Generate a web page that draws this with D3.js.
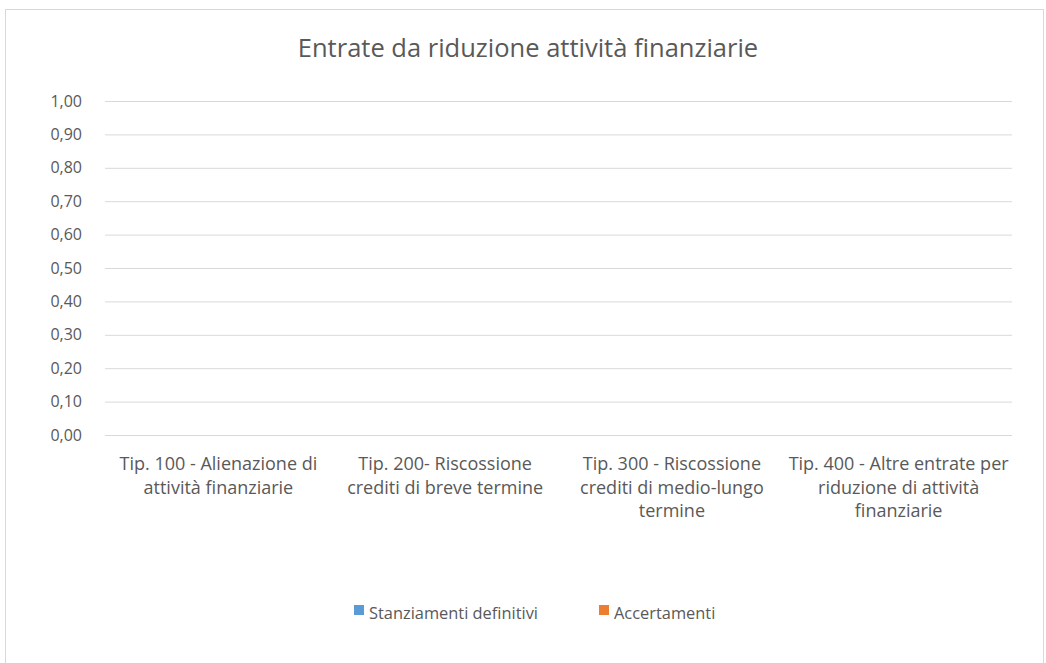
<!DOCTYPE html>
<html>
<head>
<meta charset="utf-8">
<script src="https://cdn.jsdelivr.net/npm/d3@7"></script>
<style>
  body { margin: 0; background: #fff; }
  svg text { font-family: "Open Sans", sans-serif; fill: #595959; }
</style>
</head>
<body>
<div id="chart"></div>
<script>
var categories = [
  ["Tip. 100 - Alienazione di", "attività finanziarie"],
  ["Tip. 200- Riscossione", "crediti di breve termine"],
  ["Tip. 300 - Riscossione", "crediti di medio-lungo", "termine"],
  ["Tip. 400 - Altre entrate per", "riduzione di attività", "finanziarie"]
];
var seriesNames = ["Stanziamenti definitivi", "Accertamenti"];
var stanziamenti = [0, 0, 0, 0];
var accertamenti = [0, 0, 0, 0];
var yTicks = [0, 0.1, 0.2, 0.3, 0.4, 0.5, 0.6, 0.7, 0.8, 0.9, 1.0];
var colors = ["#5B9BD5", "#ED7D31"];

var width = 1046, height = 663;
var plotLeft = 105, plotRight = 1012, plotTop = 101, plotBottom = 435;

var svg = d3.select("#chart").append("svg")
  .attr("width", width)
  .attr("height", height);

// chart frame
svg.append("rect")
  .attr("x", 5.5).attr("y", 9.5)
  .attr("width", 1038).attr("height", 700)
  .attr("fill", "#fff")
  .attr("stroke", "#d9d9d9");

svg.append("text")
  .attr("x", 528).attr("y", 57)
  .attr("text-anchor", "middle")
  .style("font-size", "25.5px")
  .text("Entrate da riduzione attività finanziarie");

var y = d3.scaleLinear().domain([0, 1]).range([plotBottom, plotTop]);
var x = d3.scaleBand().domain(d3.range(categories.length)).range([plotLeft, plotRight]);
var x1 = d3.scaleBand().domain(d3.range(seriesNames.length)).range([0, x.bandwidth()]).paddingInner(0).paddingOuter(1.2);

var fmt = function(v) { return d3.format(".2f")(v).replace(".", ","); };

var yAxis = svg.append("g")
  .attr("transform", "translate(" + plotLeft + ",0)")
  .call(d3.axisLeft(y).tickValues(yTicks).tickSize(-(plotRight - plotLeft)).tickFormat(fmt));
yAxis.select(".domain").remove();
yAxis.selectAll(".tick line").attr("stroke", "#d9d9d9");
yAxis.selectAll(".tick text")
  .attr("x", -23)
  .style("font-family", "Open Sans, sans-serif")
  .style("font-size", "16px")
  .style("fill", "#595959");

// bars (all zero)
var data = [stanziamenti, accertamenti];
data.forEach(function(vals, s) {
  svg.selectAll(".bar-" + s)
    .data(vals)
    .enter().append("rect")
    .attr("class", "bar-" + s)
    .attr("x", function(d, i) { return x(i) + x1(s); })
    .attr("width", x1.bandwidth())
    .attr("y", function(d) { return y(d); })
    .attr("height", function(d) { return plotBottom - y(d); })
    .attr("fill", colors[s]);
});

// category labels
var labels = svg.selectAll(".cat")
  .data(categories)
  .enter().append("text")
  .attr("class", "cat")
  .attr("text-anchor", "middle")
  .style("font-size", "18px");
labels.each(function(lines, i) {
  var t = d3.select(this);
  lines.forEach(function(line, j) {
    t.append("tspan")
      .attr("x", x(i) + x.bandwidth() / 2)
      .attr("y", 470 + j * 23.5)
      .text(line);
  });
});

// legend
var legendX = [354, 599];
seriesNames.forEach(function(name, s) {
  svg.append("rect")
    .attr("x", legendX[s]).attr("y", 605)
    .attr("width", 10).attr("height", 10)
    .attr("fill", colors[s]);
  svg.append("text")
    .attr("x", legendX[s] + 15).attr("y", 619)
    .style("font-size", "16.4px")
    .text(name);
});
</script>
</body>
</html>
